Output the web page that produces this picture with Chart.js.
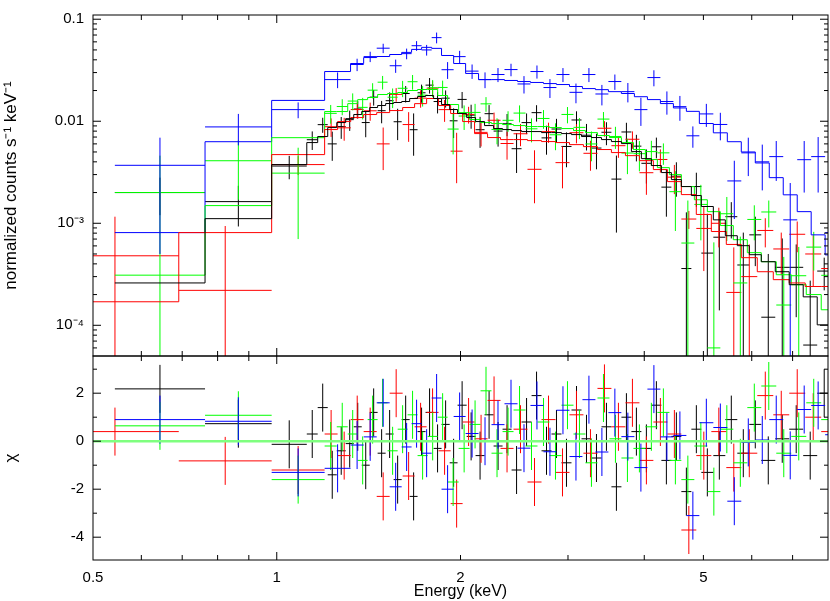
<!DOCTYPE html>
<html><head><meta charset="utf-8">
<script src="https://cdn.jsdelivr.net/npm/chart.js@4.4.0/dist/chart.umd.min.js"></script>
<style>
html,body{margin:0;padding:0;background:#fff;}
#wrap{position:relative;width:830px;height:601px;overflow:hidden;background:#fff;}
#top{position:absolute;left:0;top:0;}
#bot{position:absolute;left:0;top:352px;}
</style></head><body>
<div id="wrap"><canvas id="top" width="830" height="360"></canvas><canvas id="bot" width="830" height="249"></canvas></div>
<script>
// ---------------- data (energies in keV) ----------------
const blackEdges = [0.543,0.763,0.981,1.120,1.167,1.212,1.254,1.297,1.337,1.378,1.420,1.463,1.508,1.554,1.602,1.651,1.701,1.753,1.807,1.862,1.920,1.978,2.047,2.117,2.190,2.266,2.344,2.425,2.518,2.615,2.715,2.819,2.927,3.040,3.157,3.278,3.404,3.534,3.670,3.811,3.957,4.109,4.267,4.431,4.601,4.778,4.961,5.191,5.431,5.682,5.945,6.220,6.557,6.911,7.286,7.681,8.097];
const blackRate = [0.0020,0.00163,0.00364,0.00659,0.00926,0.0060,0.00886,0.01037,0.01318,0.00971,0.01723,0.01269,0.0159,0.00989,0.0187,0.00826,0.01901,0.02259,0.0156,0.01683,0.0101,0.01637,0.01148,0.00826,0.01186,0.00801,0.00945,0.00538,0.0097,0.01214,0.00687,0.00839,0.00566,0.01029,0.00729,0.00546,0.0078,0.00271,0.00785,0.0057,0.00387,0.00562,0.00226,0.00289,0.00036,0.00229,0.00051,0.00073,0.00116,0.00039,0.00077,0.00012,0.00037,0.00037,0.000064,0.00034];
const blackErr = [0.0008,0.0007,0.00094,0.00136,0.00156,0.00191,0.00214,0.00233,0.00256,0.00274,0.003,0.00314,0.00328,0.00336,0.00343,0.00367,0.00384,0.00393,0.00367,0.00321,0.00326,0.00298,0.00304,0.00278,0.00254,0.00237,0.00232,0.00227,0.00222,0.00222,0.00217,0.00217,0.00212,0.00222,0.00212,0.00208,0.00198,0.0019,0.00181,0.00166,0.00142,0.00129,0.0011,0.00107,0.00092,0.00084,0.00073,0.00059,0.00045,0.00042,0.00039,0.00038,0.00034,0.00025,0.00021,0.00012];
const blackModel = [2.6e-4,1.11e-3,3.76e-3,6.18e-3,7.08e-3,8.67e-3,9.71e-3,0.0106,0.01164,0.01245,0.01363,0.01426,0.01492,0.01526,0.01561,0.0167,0.01747,0.01787,0.0167,0.01458,0.01303,0.0119,0.01087,0.00993,0.00907,0.00848,0.00829,0.0081,0.00792,0.00792,0.00774,0.00774,0.00757,0.0074,0.00708,0.00692,0.00661,0.00632,0.00604,0.00504,0.0043,0.00368,0.00314,0.00268,0.00229,0.00187,0.00146,0.00108,7.55e-4,6.03e-4,4.92e-4,4.2e-4,3.35e-4,2.5e-4,1.9e-4,1.01e-4];
const blackChi = [2.18,0.73,-0.13,0.3,1.4,-1.4,-0.4,-0.1,0.6,-1.0,1.2,-0.5,0.3,-1.6,0.9,-2.3,0.4,1.2,-0.3,0.7,-0.9,1.5,0.2,-0.6,1.1,-0.2,0.5,-1.2,0.8,1.9,-0.4,0.3,-0.9,1.3,0.1,-0.7,0.6,-1.9,1.0,0.4,-0.3,1.5,-0.8,0.2,-2.1,0.5,-1.3,-0.6,0.9,-0.5,0.7,-0.8,0.1,0.5,-0.6,2.0];

const redEdges = [0.427,0.691,0.981,1.198,1.258,1.322,1.388,1.458,1.531,1.608,1.682,1.760,1.841,1.927,2.016,2.109,2.215,2.326,2.443,2.575,2.715,2.862,3.017,3.180,3.353,3.534,3.726,3.928,4.140,4.365,4.601,4.868,5.152,5.451,5.768,6.127,6.508,6.912,7.341,7.798,8.283];
const redRate = [0.00048,0.00022,0.00376,0.00884,0.00862,0.01302,0.01266,0.006,0.01833,0.00928,0.01684,0.0211,0.013,0.00509,0.01167,0.00778,0.01022,0.00605,0.00754,0.00338,0.00791,0.00393,0.00772,0.00485,0.00854,0.00576,0.00666,0.00313,0.00422,0.00283,0.0011,0.00089,0.001,0.00021,0.0003,0.00085,0.00056,0.00078,0.0005,0.00036];
const redErr = [0.00068,0.00072,0.00079,0.00182,0.00218,0.00239,0.00256,0.00268,0.0028,0.003,0.00327,0.00367,0.00314,0.00262,0.00218,0.00212,0.00194,0.00185,0.00185,0.00181,0.00177,0.00173,0.00165,0.00158,0.00148,0.00138,0.00129,0.00123,0.00108,0.0009,0.00022,0.00055,0.00042,0.00037,0.00032,0.00027,0.00025,0.00026,0.00026,0.00029];
const redModel = [1.7e-4,8.1e-4,0.00471,0.00829,0.00993,0.01087,0.01164,0.01216,0.01273,0.01363,0.01488,0.0167,0.01426,0.0119,0.00993,0.00757,0.00692,0.00661,0.00661,0.00646,0.00632,0.00618,0.0059,0.00564,0.00528,0.00493,0.0046,0.00411,0.00336,0.00256,0.00191,0.00122,0.00083,0.00062,0.00046,0.000335,0.00028,0.00026,0.00024,0.00024];
const redChi = [0.4,-0.82,-1.2,0.3,-0.6,0.9,0.4,-2.3,2.0,-1.45,0.6,1.2,-0.4,-2.6,0.8,0.1,1.7,-0.3,0.5,-1.7,0.9,-1.3,1.1,-0.5,2.2,0.6,1.6,-0.8,0.8,0.3,-3.7,-0.6,0.4,-1.1,-0.5,1.9,1.1,2.0,1.0,0.4];

const greenEdges = [0.543,0.763,0.981,1.198,1.254,1.307,1.357,1.409,1.463,1.519,1.578,1.638,1.701,1.767,1.835,1.905,1.986,2.070,2.157,2.248,2.344,2.443,2.556,2.674,2.798,2.927,3.063,3.204,3.353,3.508,3.670,3.840,4.017,4.203,4.398,4.601,4.832,5.075,5.330,5.597,5.901,6.220,6.582,6.965,7.370,7.798,8.252];
const greenRate = [0.0020,0.0041,0.0031,0.01195,0.01394,0.01577,0.01368,0.02017,0.02414,0.0172,0.02105,0.0244,0.01802,0.02129,0.02144,0.00838,0.01125,0.01221,0.01481,0.00831,0.01021,0.01202,0.00843,0.01065,0.00737,0.01166,0.00871,0.00599,0.0105,0.00709,0.00488,0.00481,0.00504,0.0049,0.00204,0.00064,0.00153,0.00006,0.00124,0.00026,0.00109,0.00129,0.000158,0.000306,0.000584,0.000309];
const greenErr = [0.0026,0.0024,0.0024,0.00249,0.00249,0.00298,0.00326,0.00342,0.00366,0.00374,0.00383,0.004,0.00409,0.00409,0.00357,0.00365,0.00304,0.0026,0.00243,0.00237,0.00232,0.00227,0.00222,0.00222,0.00217,0.00212,0.00203,0.00194,0.00181,0.00173,0.00185,0.00158,0.00139,0.00116,0.0012,0.00103,0.00085,0.00059,0.00057,0.00048,0.00041,0.00038,0.00031,0.00028,0.00024,0.000185];
const greenModel = [3.1e-4,0.00149,0.0069,0.01245,0.01245,0.01488,0.01629,0.01709,0.01828,0.0187,0.01913,0.02001,0.02047,0.02047,0.01787,0.01458,0.01216,0.01039,0.00971,0.00949,0.00928,0.00907,0.00887,0.00887,0.00867,0.00848,0.0081,0.00774,0.00724,0.00692,0.00618,0.00528,0.00421,0.00351,0.003,0.00229,0.0017,0.0013,0.00095,0.00069,0.000515,0.00042,0.000313,0.00025,0.0002,0.000142];
const greenChi = [0.64,1.08,-1.6,-0.2,0.6,0.3,-0.8,0.9,1.6,-0.4,0.5,1.1,-0.6,0.2,1.0,-1.7,-0.3,0.7,2.1,-0.5,0.4,1.3,-0.2,0.8,-0.6,1.5,0.3,-0.9,1.8,0.1,-0.7,-0.3,0.6,1.2,-0.8,-1.6,-0.2,-2.1,0.5,-0.9,1.4,2.3,-0.5,0.2,1.6,0.9];

const blueEdges = [0.543,0.763,0.981,1.198,1.321,1.388,1.458,1.531,1.602,1.663,1.727,1.794,1.862,1.949,2.039,2.141,2.248,2.361,2.480,2.604,2.735,2.872,3.017,3.168,3.327,3.494,3.669,3.854,4.048,4.251,4.465,4.689,4.924,5.191,5.472,5.768,6.081,6.410,6.757,7.123,7.508,7.914,8.343];
const blueRate = [0.0037,0.0088,0.013,0.0256,0.036,0.043,0.052,0.035,0.046,0.055,0.050,0.066,0.032,0.043,0.031,0.0256,0.0287,0.0321,0.0232,0.0307,0.0214,0.0287,0.0192,0.0287,0.0185,0.0245,0.0195,0.013,0.0268,0.0156,0.0139,0.0072,0.0118,0.0093,0.0026,0.0049,0.004,0.0045,0.00108,0.0042,0.0045,0.00081];
const blueErr = [0.0032,0.003,0.0023,0.0045,0.005,0.005,0.0055,0.0052,0.0055,0.006,0.006,0.008,0.006,0.006,0.005,0.0045,0.0045,0.0045,0.0045,0.0045,0.0045,0.0045,0.0042,0.0045,0.0042,0.0042,0.0042,0.004,0.0048,0.004,0.0038,0.0017,0.003,0.0028,0.0015,0.002,0.0019,0.0019,0.0014,0.0022,0.0025,0.0012];
const blueModel = [8.1e-4,0.0063,0.016,0.0307,0.0368,0.0421,0.0431,0.0451,0.0473,0.0506,0.053,0.0518,0.0441,0.0368,0.0294,0.0256,0.0256,0.0251,0.0245,0.024,0.0234,0.0229,0.0219,0.0209,0.0204,0.0195,0.0187,0.0174,0.0163,0.0149,0.0135,0.0125,0.0095,0.0077,0.0063,0.005,0.0039,0.0028,0.0019,0.0013,0.00077,0.00049];
const blueChi = [0.9,0.83,-1.3,-1.13,-0.16,0.18,1.6,-1.9,-0.24,0.73,-0.5,1.8,-2.0,1.03,0.32,0.0,0.69,1.56,-0.29,1.49,-0.44,1.29,-0.64,1.73,-0.45,1.19,0.19,-1.1,2.17,0.18,0.24,-3.1,0.77,0.57,-2.5,-0.05,0.05,0.9,-0.59,1.32,1.49,0.27];

// ---------------- axes / ticks ----------------
const xTickValues = [0.5, 1, 2, 5];
const xTickLabels = ['0.5', '1', '2', '5'];
const xMajorMarks = [1];
const xMinorMarks = [0.6, 0.7, 0.8, 0.9, 2, 3, 4, 5, 6, 7, 8];
const yTopTickValues = [1e-4, 1e-3, 0.01, 0.1];
const yTopTickLabels = ['10\u207B\u2074', '10\u207B\u00B3', '0.01', '0.1'];
const yBotTickValues = [-4, -2, 0, 2];
const yBotTickLabels = ['-4', '-2', '0', '2'];
const yBotMinorMarks = [-3, -1, 1, 3];

const seriesList = [
  {name:'black', color:'#000000', edges:blackEdges, rate:blackRate, err:blackErr, model:blackModel, chi:blackChi},
  {name:'red',   color:'#ff0000', edges:redEdges,   rate:redRate,   err:redErr,   model:redModel,   chi:redChi},
  {name:'green', color:'#00ff00', edges:greenEdges, rate:greenRate, err:greenErr, model:greenModel, chi:greenChi},
  {name:'blue',  color:'#0000ff', edges:blueEdges,  rate:blueRate,  err:blueErr,  model:blueModel,  chi:blueChi}
];

const FONT = "'Liberation Sans', Arial, Helvetica, sans-serif";

function crossPoints(edges, vals, errs) {
  return vals.map((v, i) => ({x: Math.sqrt(edges[i] * edges[i+1]), y: v, xlo: edges[i], xhi: edges[i+1], e: errs[i]}));
}
function stepPoints(edges, vals) {
  const pts = vals.map((v, i) => ({x: edges[i], y: v}));
  pts.push({x: edges[edges.length-1], y: vals[vals.length-1]});
  return pts;
}
function labelFor(values, labels, v) {
  let best = 0;
  values.forEach((t, i) => { if (Math.abs(t - v) < Math.abs(values[best] - v)) best = i; });
  return labels[best];
}
function noPad(s) { s.paddingTop = 0; s.paddingBottom = 0; s.paddingLeft = 0; s.paddingRight = 0; }

// error-bar crosses drawn through the chart's own scales
const crossPlugin = {
  id: 'crosses',
  beforeDatasetsDraw(chart) {
    const {ctx, chartArea: a, scales: {x, y}} = chart;
    const isLog = y.type === 'logarithmic';
    const py = v => (isLog && v <= 0) ? a.bottom + 20 : y.getPixelForValue(v);
    ctx.save();
    ctx.beginPath(); ctx.rect(a.left, a.top, a.right - a.left, a.bottom - a.top); ctx.clip();
    ctx.lineWidth = 1;
    chart.data.datasets.forEach(ds => {
      if (!ds.crosses) return;
      ctx.strokeStyle = ds.crossColor;
      ctx.beginPath();
      ds.data.forEach(p => {
        const x0 = x.getPixelForValue(p.xlo), x1 = x.getPixelForValue(p.xhi), xc = x.getPixelForValue(p.x);
        const yc = py(p.y), y0 = py(p.y - p.e), y1 = py(p.y + p.e);
        ctx.moveTo(x0, yc); ctx.lineTo(x1, yc);
        ctx.moveTo(xc, y0); ctx.lineTo(xc, y1);
      });
      ctx.stroke();
    });
    ctx.restore();
  }
};

// frame with inward tick marks on all four sides
const framePlugin = {
  id: 'frame',
  afterDraw(chart, args, opts) {
    const {ctx, chartArea: a, scales: {x, y}} = chart;
    ctx.save();
    ctx.strokeStyle = '#000'; ctx.lineWidth = 1;
    ctx.strokeRect(a.left, a.top, a.right - a.left, a.bottom - a.top);
    ctx.beginPath();
    const xt = (vals, len) => vals.forEach(v => {
      const p = x.getPixelForValue(v);
      if (p < a.left + 0.5 || p > a.right - 0.5) return;
      ctx.moveTo(p, a.bottom); ctx.lineTo(p, a.bottom - len);
      ctx.moveTo(p, a.top); ctx.lineTo(p, a.top + len);
    });
    const yt = (vals, len) => vals.forEach(v => {
      const p = y.getPixelForValue(v);
      if (p < a.top + 0.5 || p > a.bottom - 0.5) return;
      ctx.moveTo(a.left, p); ctx.lineTo(a.left + len, p);
      ctx.moveTo(a.right, p); ctx.lineTo(a.right - len, p);
    });
    xt(opts.xMajor, 8); xt(opts.xMinor, 5);
    yt(opts.yMajor, 8); yt(opts.yMinor, 4);
    ctx.stroke();
    ctx.restore();
  }
};

// ---------------- top panel ----------------
const topSets = [];
seriesList.forEach(s => topSets.push({label: s.name + ' data', data: crossPoints(s.edges, s.rate, s.err), crosses: true, crossColor: s.color, pointRadius: 0, showLine: false}));
seriesList.forEach(s => topSets.push({type: 'line', label: s.name + ' model', data: stepPoints(s.edges, s.model), stepped: 'before', borderColor: s.color, borderWidth: 1, pointRadius: 0, fill: false}));

const yTopMinor = [];
for (let n = -5; n <= -1; n++) for (let k = 2; k <= 9; k++) yTopMinor.push(k * Math.pow(10, n));

new Chart(document.getElementById('top'), {
  type: 'scatter',
  data: {datasets: topSets},
  options: {
    responsive: false, animation: false,
    layout: {padding: {left: 0, right: 2, top: 15, bottom: 4}},
    plugins: {
      legend: {display: false}, tooltip: {enabled: false},
      frame: {xMajor: xMajorMarks, xMinor: xMinorMarks, yMajor: yTopTickValues, yMinor: yTopMinor}
    },
    scales: {
      x: {type: 'logarithmic', min: 0.5, max: 8, display: false},
      y: {
        type: 'logarithmic', min: 5e-5, max: 0.11,
        grid: {display: false, drawTicks: false}, border: {display: false},
        afterBuildTicks: s => { s.ticks = yTopTickValues.map(v => ({value: v})); },
        ticks: {autoSkip: false, color: '#000', padding: 9, font: {family: FONT, size: 15},
                callback: v => labelFor(yTopTickValues, yTopTickLabels, v)},
        title: {display: true, text: 'normalized counts s\u207B\u00B9 keV\u207B\u00B9', color: '#000',
                font: {family: FONT, size: 17}, padding: {top: 1, bottom: 0}},
        afterFit: s => { s.width = 93; noPad(s); }
      }
    }
  },
  plugins: [crossPlugin, framePlugin]
});

// ---------------- residual panel ----------------
const botSets = [];
seriesList.forEach(s => botSets.push({label: s.name + ' chi', data: crossPoints(s.edges, s.chi, s.chi.map(() => 1)), crosses: true, crossColor: s.color, pointRadius: 0, showLine: false}));
botSets.push({type: 'line', label: 'zero', data: [{x: 0.5, y: 0}, {x: 8, y: 0}], borderColor: '#7fff7f', borderWidth: 2.5, pointRadius: 0, fill: false});

new Chart(document.getElementById('bot'), {
  type: 'scatter',
  data: {datasets: botSets},
  options: {
    responsive: false, animation: false,
    layout: {padding: {left: 0, right: 2, top: 4, bottom: 0}},
    plugins: {
      legend: {display: false}, tooltip: {enabled: false},
      frame: {xMajor: xMajorMarks, xMinor: xMinorMarks, yMajor: yBotTickValues, yMinor: yBotMinorMarks}
    },
    scales: {
      x: {
        type: 'logarithmic', min: 0.5, max: 8,
        grid: {display: false, drawTicks: false}, border: {display: false},
        afterBuildTicks: s => { s.ticks = xTickValues.map(v => ({value: v})); },
        ticks: {autoSkip: false, maxRotation: 0, color: '#000', padding: 9, font: {family: FONT, size: 15},
                callback: v => labelFor(xTickValues, xTickLabels, v)},
        title: {display: true, text: 'Energy (keV)', color: '#000', font: {family: FONT, size: 16}, padding: {top: 0, bottom: 0}},
        afterFit: s => { s.height = 41; noPad(s); }
      },
      y: {
        type: 'linear', min: -4.95, max: 3.55,
        grid: {display: false, drawTicks: false}, border: {display: false},
        afterBuildTicks: s => { s.ticks = yBotTickValues.map(v => ({value: v})); },
        ticks: {autoSkip: false, color: '#000', padding: 9, font: {family: FONT, size: 15},
                callback: v => labelFor(yBotTickValues, yBotTickLabels, v)},
        title: {display: true, text: '\u03C7', color: '#000', font: {family: FONT, size: 17}, padding: {top: 1, bottom: 0}},
        afterFit: s => { s.width = 93; noPad(s); }
      }
    }
  },
  plugins: [crossPlugin, framePlugin]
});
</script>
</body></html>
